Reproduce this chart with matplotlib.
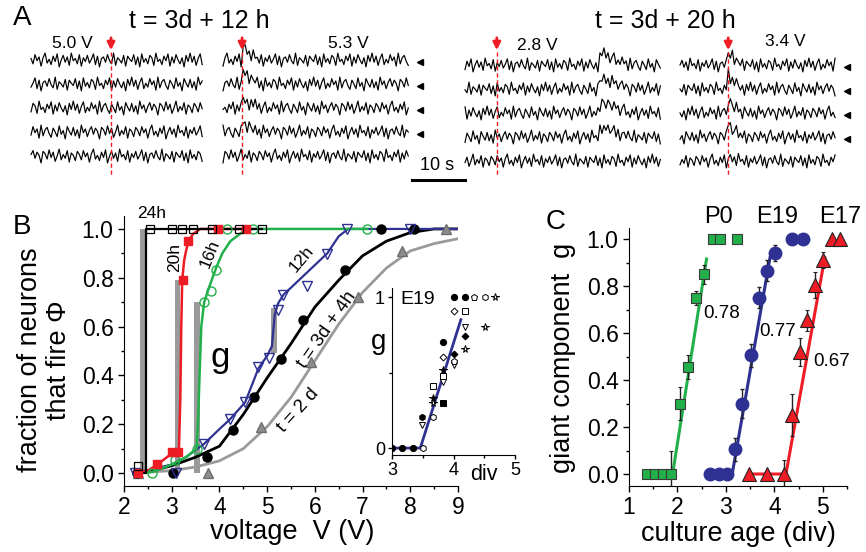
import numpy as np
import matplotlib
matplotlib.use('Agg')
import matplotlib.pyplot as plt
from matplotlib.ticker import MultipleLocator, FormatStrFormatter

plt.rcParams['font.family'] = ['Liberation Sans', 'DejaVu Sans']

W, H = 866, 552
RED = '#ee1c24'
GREEN = '#22b04b'
BLUE = '#2e3192'
GRAY = '#9a9a9a'

# ---------------- panel A data (traces, 0.38 s per sample) ----------------
noise = [0.2, -0.5, 0.7, -0.1, 0.4, -0.8, 0.3, 0.9, -0.4, 0.1, -0.6, 0.5, -0.2, 0.8, -0.9, 0.0, 0.6, -0.3, 0.4, -0.7,
         0.9, -0.1, 0.2, -0.5, 0.7, -0.8, 0.3, -0.2, 0.6, -0.4, 0.1, 0.8, -0.6, 0.5, -0.9, 0.2, 0.4, -0.3, 0.7, -0.1,
         -0.5, 0.9, -0.7, 0.3, 0.0, -0.4, 0.6, -0.8, 0.5, 0.1, -0.2, 0.7, -0.6, 0.4, -0.9, 0.8, -0.3, 0.2, -0.5, 0.6,
         0.3, -0.7, 0.9, -0.2, 0.1, -0.6, 0.5, -0.1, 0.8, -0.8, 0.4, -0.4, 0.7, 0.0, -0.5, 0.3, -0.9, 0.6, -0.2, 0.9,
         -0.3, 0.5, -0.7, 0.2, 0.8, -0.6, 0.1, -0.4, 0.7, -0.1, 0.4, -0.8, 0.9, -0.5, 0.3, 0.6, -0.2, -0.7, 0.5, 0.0,
         -0.6, 0.8, -0.3, 0.2, -0.9, 0.7, 0.1, -0.4, 0.6, -0.5, 0.3, -0.8, 0.9, -0.1, 0.4, -0.6, 0.2, 0.7, -0.3, 0.5,
         0.1, -0.9, 0.6, 0.3, -0.4, 0.8, -0.2, 0.5, -0.7, 0.0, 0.9, -0.5, 0.2, -0.3, 0.7, -0.8, 0.4, 0.1, -0.6, 0.6]
a_volts = ['5.0 V', '5.3 V', '2.8 V', '3.4 V']
a_len = [86, 93, 98, 78]
a_stim = [15.1, 3.6, 6.0, 9.1]
a_resp_t = [15.1, 3.8, 25.5, 9.3]
a_resp_amp = [[0, 0, 0, 0, 0],
              [0.55, 0.6, 0.45, 0.45, 0],
              [0.45, 0.45, 0.45, 0.4, 0],
              [0.55, 0.6, 0.55, 0.55, 0.1]]
a_slow = [False, False, True, False]
a_marked = [False, True, False, True]
fast_resp = [1.0, 0.8, 0.6, 0.45, 0.35, 0.25, 0.18, 0.1, 0.05]
slow_resp = [0.7, 1.0, 0.95, 0.85, 0.78, 0.7, 0.62, 0.55, 0.48, 0.4, 0.33, 0.25, 0.18, 0.1, 0.05]

# ---------------- panel B data ----------------
bar_v = [2.39, 3.12, 3.53, 5.14]
bar_w = [0.09, 0.12, 0.12, 0.12]
bar_bot = [0.0, 0.0, 0.0, 0.49]
bar_top = [1.0, 0.79, 0.70, 0.675]

h24_v = [2.3, 2.55, 3.0, 3.22, 3.45, 3.85, 4.4, 4.89]
h24_f = [0.03, 1, 1, 1, 1, 1, 1, 1]
h24_fit_v = [2.2, 2.46, 2.46, 4.9]
h24_fit = [0, 0, 1, 1]

h20_v = [2.3, 2.7, 3.0, 3.14, 3.24, 3.35, 3.98, 4.56]
h20_f = [0, 0.037, 0.087, 0.087, 0.79, 0.95, 1, 1]
h20_fit_v = [2.2, 2.5, 2.7, 3.0, 3.15, 3.18, 3.2, 3.22, 3.26, 3.3, 3.35, 3.45, 3.6, 4.6]
h20_fit = [0, 0.01, 0.035, 0.08, 0.09, 0.3, 0.6, 0.79, 0.87, 0.91, 0.95, 0.98, 1.0, 1.0]

h16_v = [2.58, 3.07, 3.52, 3.68, 3.82, 3.93, 4.15, 4.7, 7.09]
h16_f = [0, 0.053, 0.10, 0.70, 0.745, 0.83, 1, 1, 1]
h16_fit_v = [2.3, 2.6, 3.0, 3.3, 3.52, 3.55, 3.58, 3.62, 3.68, 3.8, 3.93, 4.06, 4.23, 4.5, 4.7, 7.1]
h16_fit = [0, 0.005, 0.035, 0.065, 0.10, 0.2, 0.38, 0.6, 0.70, 0.77, 0.84, 0.9, 0.95, 0.99, 1.0, 1.0]

h12_v = [2.23, 3.1, 3.68, 4.22, 4.54, 4.8, 5.03, 5.23, 5.34, 5.83, 6.26, 6.67, 8.0]
h12_f = [0, 0, 0.12, 0.22, 0.29, 0.436, 0.47, 0.668, 0.73, 0.766, 0.897, 1.0, 1.0]
h12_fit_v = [2.2, 2.5, 3.0, 3.3, 3.68, 4.0, 4.22, 4.54, 4.82, 5.0, 5.1, 5.16, 5.23, 5.34, 5.8, 6.26, 6.5, 6.7, 9.0]
h12_fit = [0, 0.012, 0.035, 0.065, 0.12, 0.18, 0.22, 0.29, 0.43, 0.48, 0.52, 0.65, 0.695, 0.73, 0.815, 0.9, 0.97, 1.0, 1.0]

h4_v = [2.28, 3.03, 3.74, 4.29, 4.73, 5.29, 5.76, 6.64, 7.38, 8.08]
h4_f = [0, 0, 0.065, 0.176, 0.31, 0.466, 0.627, 0.83, 1, 1]
h4_fit_v = [2.2, 2.5, 3.0, 3.5, 4.0, 4.5, 5.0, 5.5, 6.0, 6.5, 7.0, 7.5, 8.0, 8.5, 9.0]
h4_fit = [0, 0.005, 0.03, 0.065, 0.11, 0.24, 0.39, 0.53, 0.68, 0.79, 0.89, 0.95, 0.985, 1.0, 1.0]

d2_v = [2.3, 3.76, 4.87, 5.92, 6.91, 7.82, 8.75]
d2_f = [0, 0, 0.19, 0.456, 0.72, 0.91, 1.0]
d2_fit_v = [2.2, 3.0, 3.5, 4.0, 4.5, 5.0, 5.5, 6.0, 6.5, 7.0, 7.5, 8.0, 8.5, 9.0]
d2_fit = [0, 0.01, 0.025, 0.05, 0.10, 0.19, 0.31, 0.46, 0.61, 0.74, 0.84, 0.91, 0.94, 0.96]

# inset: giant component for E19 cultures
ins_div = [3.0, 3.16, 3.34, 3.5, 3.48, 3.48, 3.66, 3.66, 3.66, 3.66, 3.83, 3.83, 3.83, 3.83, 3.83, 3.83,
           4.0, 4.0, 4.0, 4.0, 4.0, 4.18, 4.18, 4.18, 4.18, 4.18, 4.33, 4.51, 4.51, 4.68]
ins_g = [0, 0, 0, 0, 0.207, 0.152, 0.207, 0.333, 0.30, 0.41, 0.30, 0.44, 0.475, 0.516, 0.605, 0.70,
         0.55, 0.575, 0.62, 0.91, 1.0, 0.656, 0.74, 0.80, 0.91, 1.0, 1.0, 1.0, 0.80, 1.0]
ins_mk = ['o', 'o', 'o', 'h', 'h', 'v', 'h', '*', '*', 's', 's', 'v', 's', '*', 'D', 'o',
          'v', 'p', 'D', 'D', 'o', '*', 'D', 'v', 's', 'o', 'p', 'h', '*', '*']
ins_fill = [1, 1, 1, 0, 1, 0, 0, 1, 0, 0, 1, 0, 0, 1, 0, 1,
            0, 0, 1, 0, 1, 0, 1, 0, 0, 1, 0, 0, 0, 0]
ins_fit_div = [3.0, 3.46, 4.12]
ins_fit_g = [0, 0, 0.85]

# ---------------- panel C data ----------------
p0_div = [1.37, 1.54, 1.70, 1.87, 2.05, 2.21, 2.38, 2.55, 2.73, 2.88, 3.22]
p0_g = [0, 0, 0, 0, 0.30, 0.455, 0.75, 0.85, 1, 1, 1]
p0_err = [0, 0, 0, 0.1, 0.07, 0.05, 0.03, 0.04, 0, 0, 0]
p0_fit_div = [1.35, 1.9, 2.6]
p0_fit_g = [0, 0, 0.915]

e19_div = [2.67, 2.85, 3.02, 3.19, 3.33, 3.52, 3.68, 3.85, 4.01, 4.36, 4.59]
e19_g = [0, 0, 0, 0.105, 0.30, 0.505, 0.75, 0.865, 0.94, 1, 1]
e19_err = [0, 0, 0, 0.05, 0.06, 0.05, 0.045, 0.045, 0.035, 0, 0]
e19_fit_div = [2.67, 3.13, 3.91]
e19_fit_g = [0, 0, 0.92]

e17_div = [3.48, 3.84, 4.2, 4.36, 4.52, 4.67, 4.83, 5.0, 5.19, 5.35]
e17_g = [0, 0, 0, 0.25, 0.52, 0.655, 0.805, 0.91, 1, 1]
e17_err = [0, 0, 0.06, 0.09, 0.06, 0.045, 0.055, 0.035, 0, 0]
e17_fit_div = [3.48, 4.24, 5.04]
e17_fit_g = [0, 0, 0.92]


def box(l, t, r, b):
    return [l / W, 1 - b / H, (r - l) / W, (b - t) / H]


def ftext(x, y, s, **kw):
    kw.setdefault('ha', 'center')
    kw.setdefault('va', 'center')
    fig.text(x / W, 1 - y / H, s, **kw)


def style(ax, size):
    for s in ['top', 'right']:
        ax.spines[s].set_visible(False)
    ax.tick_params(which='both', direction='out', labelsize=size, width=1)
    ax.tick_params(which='major', length=4)
    ax.tick_params(which='minor', length=2.5)


fig = plt.figure(figsize=(W / 100, H / 100), dpi=100)

# ---------------- panel A ----------------
PXS = 5.3   # px per second
ROW = 24.0  # px per trace row
axa = fig.add_axes(box(0, 0, W, 192))
axa.set_xlim(0, W / PXS)
axa.set_ylim((60 - 192) / ROW, 60 / ROW)
axa.axis('off')

a_left = [31, 223, 465, 680]
a_row0 = [60, 60, 65, 65]
dt = 0.38
for r in range(4):
    x0 = a_left[r] / PXS
    base = (60 - a_row0[r]) / ROW
    n = a_len[r]
    t = np.arange(n) * dt
    shape = slow_resp if a_slow[r] else fast_resp
    k0 = int(round(a_resp_t[r] / dt))
    for k in range(5):
        off = (r * 5 + k) * 29 % len(noise)
        y = np.array([noise[(off + j) % len(noise)] for j in range(n)]) * 0.32
        resp = np.zeros(n)
        for j, v in enumerate(shape):
            if k0 + j < n:
                resp[k0 + j] = v * a_resp_amp[r][k]
        axa.plot(x0 + t, base - k + y + resp, color='black', lw=0.85)
        if a_marked[r] and a_resp_amp[r][k] > 0.3:
            axa.plot(x0 + t[-1] + 2.2, base - k - 0.1, marker='<', color='black', ms=5)
    xs = x0 + a_stim[r]
    axa.plot([xs, xs], [(60 - 52) / ROW, (60 - 176) / ROW], color=RED, lw=1, ls=(0, (3, 2)))
    axa.annotate('', xy=(xs, (60 - 53) / ROW), xytext=(xs, (60 - 35) / ROW),
                 arrowprops=dict(arrowstyle='-|>', color=RED, lw=2, mutation_scale=11))

# scale bar 10 s
axa.plot([412 / PXS, 412 / PXS + 10], [(60 - 180) / ROW] * 2, color='black', lw=2.2)
ftext(437, 166, '10 s', fontsize=13)
ftext(22, 18, 'A', fontsize=20)
ftext(199, 21, 't = 3d + 12 h', fontsize=18)
ftext(665, 21, 't = 3d + 20 h', fontsize=18)
for s, x, y in zip(a_volts, [72, 348, 537, 785], [43, 43, 45, 42]):
    ftext(x, y, s, fontsize=12.5)

# ---------------- panel B ----------------
axb = fig.add_axes(box(124, 216, 458, 486))
axb.set_xlim(2, 9)
axb.set_ylim(-0.053, 1.053)
style(axb, 16.5)
axb.xaxis.set_major_locator(MultipleLocator(1))
axb.xaxis.set_minor_locator(MultipleLocator(0.5))
axb.yaxis.set_major_locator(MultipleLocator(0.2))
axb.yaxis.set_minor_locator(MultipleLocator(0.1))
axb.yaxis.set_major_formatter(FormatStrFormatter('%.1f'))

axb.bar(bar_v, np.array(bar_top) - np.array(bar_bot), width=bar_w, bottom=bar_bot,
        color=GRAY, zorder=1)
axb.plot(d2_fit_v, d2_fit, color=GRAY, lw=2, zorder=2)
axb.plot(h4_fit_v, h4_fit, color='black', lw=2, zorder=2)
axb.plot(h12_fit_v, h12_fit, color=BLUE, lw=1.6, zorder=2)
axb.plot(h16_fit_v, h16_fit, color=GREEN, lw=1.8, zorder=2)
axb.plot(h20_fit_v, h20_fit, color=RED, lw=1.8, zorder=2)
axb.plot(h24_fit_v, h24_fit, color='black', lw=1.6, zorder=2)

axb.plot(d2_v, d2_f, ls='none', marker='^', ms=7, color='#8c8c8c', mec='#6e6e6e', zorder=3)
axb.plot(h4_v, h4_f, ls='none', marker='o', ms=6.5, color='black', zorder=3)
axb.plot(h12_v, h12_f, ls='none', marker='v', ms=7, mfc='none', mec=BLUE, mew=1, zorder=3)
axb.plot(h16_v, h16_f, ls='none', marker='o', ms=6.5, mfc='none', mec=GREEN, mew=1, zorder=3)
axb.plot(h20_v, h20_f, ls='none', marker='s', ms=6, color=RED, zorder=3)
axb.plot(h24_v, h24_f, ls='none', marker='s', ms=6, mfc='none', mec='black', mew=0.9, zorder=3)

ftext(22, 227, 'B', fontsize=20)
ftext(45, 360, 'fraction of neurons\nthat fire \u03a6', fontsize=19.5, rotation=90, linespacing=1.15)
ftext(292, 532, 'voltage  V (V)', fontsize=19.5)
ftext(152, 214, '24h', fontsize=12.5)
ftext(175, 257, '20h', fontsize=12.5, rotation=90)
ftext(210, 254, '16h', fontsize=12.5, rotation=68)
ftext(302, 259, '12h', fontsize=12.5, rotation=50)
ftext(327, 330, 't = 3d + 4h', fontsize=13.5, rotation=55)
ftext(298, 410, 't = 2 d', fontsize=13.5, rotation=48)
ftext(220, 358, 'g', fontsize=25)

# inset
axi = fig.add_axes(box(392, 288, 515, 455))
axi.patch.set_visible(False)
axi.set_xlim(3, 5)
axi.set_ylim(-0.046, 1.06)
style(axi, 13)
axi.xaxis.set_major_locator(MultipleLocator(1))
axi.xaxis.set_minor_locator(MultipleLocator(0.5))
axi.set_yticks([0, 1])
axi.yaxis.set_minor_locator(MultipleLocator(0.5))
axi.tick_params(which='major', length=3, pad=2)
axi.tick_params(which='minor', length=2)
axi.plot(ins_fit_div, ins_fit_g, color=BLUE, lw=2, zorder=2)
for x, y, m, f in zip(ins_div, ins_g, ins_mk, ins_fill):
    ms = 3.5 if m == 'D' else (5.5 if m == '*' else 4.5)
    axi.plot(x, y, ls='none', marker=m, ms=ms, mfc='black' if f else 'white',
             mec='black', mew=0.7, zorder=3)
ftext(400, 299, 'E19', fontsize=14, ha='left')
ftext(379, 342, 'g', fontsize=20)
ftext(484, 474, 'div', fontsize=15.5)

# ---------------- panel C ----------------
axc = fig.add_axes(box(629, 228, 847, 486))
axc.set_xlim(1, 5.5)
axc.set_ylim(-0.051, 1.047)
style(axc, 16.5)
axc.xaxis.set_major_locator(MultipleLocator(1))
axc.xaxis.set_minor_locator(MultipleLocator(0.5))
axc.yaxis.set_major_locator(MultipleLocator(0.2))
axc.yaxis.set_minor_locator(MultipleLocator(0.1))
axc.yaxis.set_major_formatter(FormatStrFormatter('%.1f'))

axc.plot(p0_fit_div, p0_fit_g, color=GREEN, lw=2.2, zorder=2)
axc.plot(e19_fit_div, e19_fit_g, color=BLUE, lw=2.2, zorder=2)
axc.plot(e17_fit_div, e17_fit_g, color=RED, lw=2.2, zorder=2)
axc.errorbar(p0_div, p0_g, yerr=p0_err, fmt='s', ms=7.5, mfc=GREEN, mec='#3a3a3a', mew=0.8,
             ecolor='#222222', elinewidth=1, capsize=1.5, zorder=3)
axc.errorbar(e19_div, e19_g, yerr=e19_err, fmt='o', ms=9, mfc=BLUE, mec=BLUE,
             ecolor='#222222', elinewidth=1, capsize=1.5, zorder=3)
axc.errorbar(e17_div, e17_g, yerr=e17_err, fmt='^', ms=9.5, mfc=RED, mec='#222222', mew=0.8,
             ecolor='#222222', elinewidth=1, capsize=1.5, zorder=3)

ftext(556, 222, 'C', fontsize=20)
ftext(563, 358, 'giant component  g', fontsize=19.5, rotation=90)
ftext(738, 534, 'culture age (div)', fontsize=19.5)
ftext(719, 217, 'P0', fontsize=17)
ftext(777, 217, 'E19', fontsize=17)
ftext(840, 217, 'E17', fontsize=17)
ftext(722, 313, '0.78', fontsize=13.5)
ftext(778, 332, '0.77', fontsize=13.5)
ftext(832, 362, '0.67', fontsize=13.5)

fig.savefig('out.png', dpi=100)
